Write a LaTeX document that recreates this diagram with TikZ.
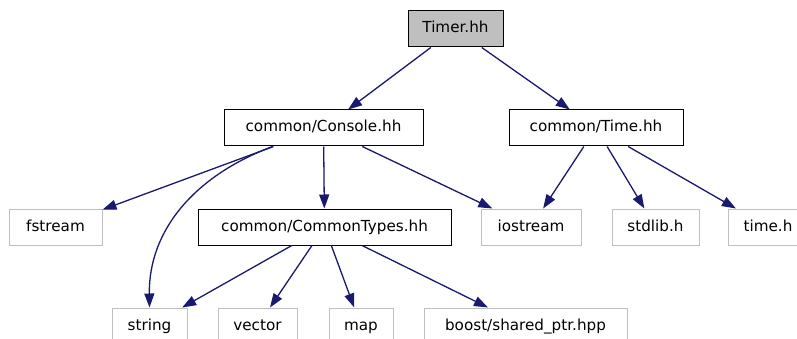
\documentclass[tikz,border=0pt]{standalone}
\usepackage{fontspec}
\setmainfont{DejaVu Sans}
\usetikzlibrary{arrows.meta, positioning}
\definecolor{colEdge}{RGB}{25,25,112}
\definecolor{colSys}{RGB}{191,191,191}
\definecolor{colRoot}{RGB}{191,191,191}
\tikzset{
  incBox/.style={
    rectangle, draw=black, line width=1pt, fill=white,
    text centered, font=\fontsize{15.2}{18}\selectfont,
    text height=11.5pt, text depth=3.5pt,
    inner sep=0pt, minimum height=36pt
  },
  rootBox/.style={incBox, fill=colRoot},
  sysBox/.style={incBox, draw=colSys},
  arr/.style={-{Triangle[length=14pt, width=10pt]}, line width=1.3pt, color=colEdge},
}

\begin{document}
\begin{tikzpicture}[x=1pt, y=-1pt]
\useasboundingbox (0,0) rectangle (797,339);

% ---- Nodes (one row per include level) --------------------------
\node[rootBox, minimum width=95pt] (timer) at (455.5,29) {Timer.hh};

\node[incBox, minimum width=199pt] (console) at (323.5,128) {common/Console.hh};
\node[incBox, minimum width=174pt, right=85pt of console] (time) {common/Time.hh};

\node[sysBox, minimum width=93pt] (fstream) at (55.5,227) {fstream};
\node[incBox, minimum width=253pt, right=95pt of fstream] (types) {common/CommonTypes.hh};
\node[sysBox, minimum width=100pt, right=29pt of types] (iostream) {iostream};
\node[sysBox, minimum width=87pt, right=30pt of iostream] (stdlib) {stdlib.h};
\node[sysBox, minimum width=80pt, right=28pt of stdlib] (timeh) {time.h};

\node[sysBox, minimum width=75pt] (string) at (149.5,326) {string};
\node[sysBox, minimum width=79pt, right=30pt of string] (vector) {vector};
\node[sysBox, minimum width=64pt, right=31pt of vector] (map) {map};
\node[sysBox, minimum width=203pt, right=30pt of map] (sharedptr) {boost/shared\_ptr.hpp};

% ---- Include edges ----------------------------------------------
\draw[arr] (timer) -- (console);
\draw[arr] (timer) -- (time);
\draw[arr] (console) -- (fstream);
\draw[arr] (console.200) .. controls +(-78,29) and +(-1,-77) .. (string.north);
\draw[arr] (console) -- (types);
\draw[arr] (console) -- (iostream);
\draw[arr] (time) -- (iostream);
\draw[arr] (time) -- (stdlib);
\draw[arr] (time) -- (timeh);
\draw[arr] (types) -- (string);
\draw[arr] (types) -- (vector);
\draw[arr] (types) -- (map);
\draw[arr] (types) -- (sharedptr);

\end{tikzpicture}
\end{document}
